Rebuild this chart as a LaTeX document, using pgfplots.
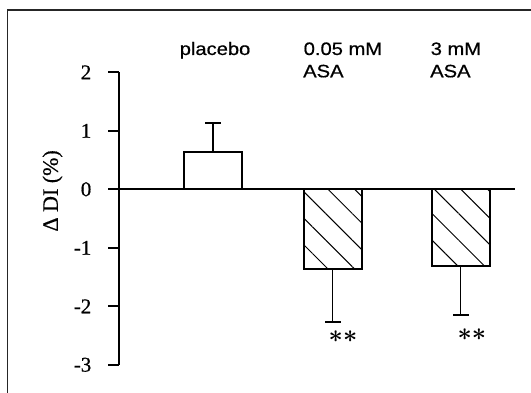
\documentclass[border=0pt]{standalone}
\usepackage{pgfplots}
\pgfplotsset{compat=1.18}
\usetikzlibrary{patterns.meta}
\usepackage{fontspec}
\setmainfont{Liberation Serif}
\newfontfamily\serifb[FakeBold=0.6]{Liberation Serif}
\newfontfamily\sansf[FakeBold=0.6]{Liberation Sans}
\begin{document}
\begin{tikzpicture}
\useasboundingbox (0,0) rectangle (531bp,393bp);
\draw[black!85, line width=1.2bp] (7.3bp,-5bp) -- (7.3bp,383bp) -- (540bp,383bp);
\begin{axis}[
  at={(119bp,28.2bp)}, anchor=south west,
  x=1bp, y=58.5bp,
  xmin=119, xmax=515, ymin=-3, ymax=2,
  axis x line=none,
  axis y line*=left,
  axis line style={line width=2bp, black},
  ytick={-3,-2,-1,0,1,2},
  yticklabels={{-3},{-2},{-1},{0},{1},{2}},
  ytick pos=left,
  tick align=outside,
  major tick length=10.5bp,
  tick style={line width=2bp, black},
  yticklabel style={font=\serifb\fontsize{21bp}{24bp}\selectfont, anchor=east, inner sep=0pt, xshift=-17bp},
  clip=false,
]
\addplot[ybar, bar width=58bp, bar shift=0pt, draw=black, fill=white, line width=2bp,
  error bars/.cd, y dir=plus, y explicit,
  error bar style={line width=1.9bp, black},
  error mark options={rotate=90, black, mark size=8bp, line width=1.9bp}]
  coordinates {(213,0.632) +- (0,0.50)};
\addplot[ybar, bar width=58bp, bar shift=0pt, draw=black, line width=2bp,
  pattern={Lines[angle=-45, distance=18.8bp, line width=1bp]},
  error bars/.cd, y dir=minus, y explicit,
  error bar style={line width=1.9bp, black},
  error mark options={rotate=90, black, mark size=8bp, line width=1.9bp}]
  coordinates {(332.5,-1.368) +- (0,0.895)};
\addplot[ybar, bar width=58bp, bar shift=0pt, draw=black, line width=2bp,
  pattern={Lines[angle=-45, distance=18.8bp, line width=1bp]},
  error bars/.cd, y dir=minus, y explicit,
  error bar style={line width=1.9bp, black},
  error mark options={rotate=90, black, mark size=8bp, line width=1.9bp}]
  coordinates {(460.5,-1.311) +- (0,0.838)};
\addplot[black, line width=2bp] coordinates {(119,0) (515,0)};
\node[inner sep=0pt, font=\fontsize{29bp}{31bp}\selectfont\boldmath] at (axis cs:343,-2.516) {$\ast\ast$};
\node[inner sep=0pt, font=\fontsize{29bp}{31bp}\selectfont\boldmath] at (axis cs:471.8,-2.49) {$\ast\ast$};
\end{axis}
\node[rotate=90, inner sep=0pt, font=\serifb\fontsize{22bp}{26bp}\selectfont] at (52.5bp,202.1bp) {Δ DI (\%)};
\begin{scope}[every node/.style={inner sep=0pt, anchor=base west, xscale=1.12, transform shape, font=\sansf\fontsize{18bp}{22bp}\selectfont}]
\node at (179.5bp,338bp) {placebo};
\node at (303.5bp,338bp) {0.05 mM};
\node at (303bp,315.7bp) {ASA};
\node at (430.5bp,338bp) {3 mM};
\node at (430bp,315.7bp) {ASA};
\end{scope}
\end{tikzpicture}
\end{document}
